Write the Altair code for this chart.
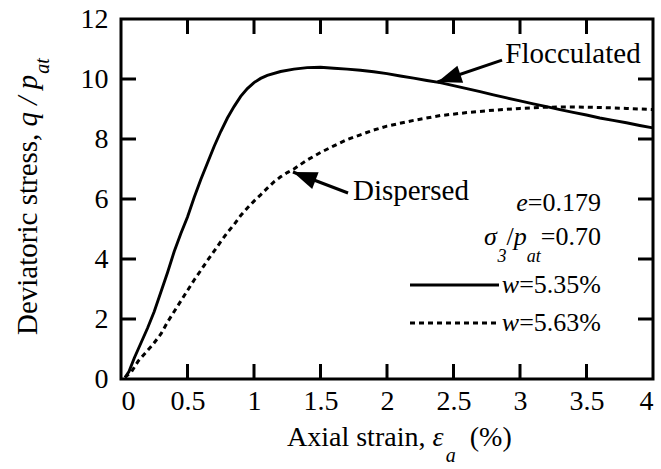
import math
import altair as alt
import pandas as pd

# ---------------- data ----------------
floc_x = [0.03, 0.06, 0.10, 0.15, 0.20, 0.25, 0.30, 0.35, 0.40, 0.45, 0.50, 0.55,
          0.60, 0.65, 0.70, 0.75, 0.80, 0.85, 0.90, 0.95, 1.00, 1.05, 1.10, 1.20,
          1.30, 1.40, 1.50, 1.60, 1.70, 1.80, 1.90, 2.00, 2.10, 2.20, 2.30, 2.40,
          2.50, 2.60, 2.70, 2.80, 2.90, 3.00, 3.10, 3.20, 3.30, 3.40, 3.50, 3.60,
          3.70, 3.80, 3.90, 4.00]
floc_y = [0.05, 0.25, 0.70, 1.20, 1.70, 2.25, 2.90, 3.55, 4.25, 4.85, 5.40, 6.05,
          6.65, 7.20, 7.75, 8.25, 8.70, 9.08, 9.42, 9.68, 9.88, 10.02, 10.12, 10.25,
          10.33, 10.38, 10.39, 10.36, 10.33, 10.29, 10.24, 10.18, 10.10, 10.03, 9.95, 9.88,
          9.78, 9.68, 9.58, 9.47, 9.37, 9.27, 9.17, 9.08, 8.98, 8.89, 8.80, 8.70,
          8.62, 8.54, 8.45, 8.37]

disp_x = [0.03, 0.08, 0.13, 0.18, 0.24, 0.30, 0.35, 0.40, 0.45, 0.50, 0.55, 0.60,
          0.65, 0.70, 0.75, 0.80, 0.85, 0.90, 0.95, 1.00, 1.05, 1.10, 1.15, 1.20,
          1.25, 1.30, 1.40, 1.50, 1.60, 1.70, 1.80, 1.90, 2.00, 2.20, 2.40, 2.60,
          2.80, 3.00, 3.20, 3.40, 3.60, 3.80, 4.00]
disp_y = [0.05, 0.25, 0.60, 0.85, 1.15, 1.50, 1.90, 2.25, 2.60, 2.95, 3.30, 3.62,
          3.95, 4.26, 4.58, 4.88, 5.15, 5.45, 5.70, 5.93, 6.14, 6.36, 6.57, 6.74,
          6.88, 7.00, 7.30, 7.55, 7.77, 7.98, 8.14, 8.30, 8.43, 8.62, 8.78, 8.88,
          8.96, 9.02, 9.06, 9.07, 9.05, 9.02, 8.98]

x_ticks = [0, 0.5, 1, 1.5, 2, 2.5, 3, 3.5, 4]
y_ticks = [0, 2, 4, 6, 8, 10, 12]

# annotation arrows (data coordinates): tail -> tip
arrow_labels = ["Flocculated", "Dispersed"]
arrow_tail_x = [2.865, 1.707]
arrow_tail_y = [10.63, 6.20]
arrow_tip_x = [2.38, 1.293]
arrow_tip_y = [9.90, 6.90]
label_x = [2.89, 1.744]
label_y = [10.82, 6.28]

# ---------------- layout ----------------
W, H = 532, 360
PADL, PADT, PADR, PADB = 121, 19, 8, 90
FONT = "Liberation Serif"
TICK = 15
S_TICK, S_KEY, S_ARR = 28, 26, 29

xs = alt.Scale(domain=[0, 4], nice=False, zero=False)
ys = alt.Scale(domain=[0, 12], nice=False, zero=False)

floc = pd.DataFrame({"x": floc_x, "y": floc_y})
disp = pd.DataFrame({"x": disp_x, "y": disp_y})

solid = alt.Chart(floc).mark_line(color="black", strokeWidth=2.9, clip=True).encode(
    x=alt.X("x:Q", scale=xs,
            axis=alt.Axis(values=x_ticks, format="~g", title=None, ticks=False, tickSize=0,
                          domain=False, grid=False, labelFont=FONT, labelFontSize=S_TICK,
                          labelColor="black", labelPadding=8)),
    y=alt.Y("y:Q", scale=ys,
            axis=alt.Axis(values=y_ticks, format="~g", title=None, ticks=False, tickSize=0,
                          domain=False, grid=False, labelFont=FONT, labelFontSize=S_TICK,
                          labelColor="black", labelPadding=13)),
)
dotted = alt.Chart(disp).mark_line(color="black", strokeWidth=3, strokeDash=[5, 4],
                                   clip=True).encode(x=alt.X("x:Q", scale=xs),
                                                     y=alt.Y("y:Q", scale=ys))

xt = pd.DataFrame({"v": x_ticks[1:-1]})
yt = pd.DataFrame({"v": y_ticks[1:-1]})
tick_b = alt.Chart(xt).mark_rule(color="black", strokeWidth=3).encode(
    x=alt.X("v:Q", scale=xs), y=alt.value(H), y2=alt.value(H - TICK))
tick_t = alt.Chart(xt).mark_rule(color="black", strokeWidth=3).encode(
    x=alt.X("v:Q", scale=xs), y=alt.value(0), y2=alt.value(TICK))
tick_l = alt.Chart(yt).mark_rule(color="black", strokeWidth=3).encode(
    y=alt.Y("v:Q", scale=ys), x=alt.value(0), x2=alt.value(TICK))
tick_r = alt.Chart(yt).mark_rule(color="black", strokeWidth=3).encode(
    y=alt.Y("v:Q", scale=ys), x=alt.value(W), x2=alt.value(W - TICK))

px_x, px_y = W / 4.0, H / 12.0
head_len = 24
heads = []
for i in range(len(arrow_labels)):
    dxp = (arrow_tip_x[i] - arrow_tail_x[i]) * px_x
    dyp = -(arrow_tip_y[i] - arrow_tail_y[i]) * px_y
    n = math.hypot(dxp, dyp)
    ux, uy = dxp / n, dyp / n
    ang = math.degrees(math.atan2(ux, -uy)) % 360
    cx = arrow_tip_x[i] - ux * head_len / 2 / px_x
    cy = arrow_tip_y[i] + uy * head_len / 2 / px_y
    heads.append({"x": cx, "y": cy, "ang": ang})
arrows_df = pd.DataFrame({"x": arrow_tail_x, "y": arrow_tail_y,
                          "x2": arrow_tip_x, "y2": arrow_tip_y})
shafts = alt.Chart(arrows_df).mark_rule(color="black", strokeWidth=3).encode(
    x=alt.X("x:Q", scale=xs), y=alt.Y("y:Q", scale=ys), x2="x2:Q", y2="y2:Q")
head_layers = [
    alt.Chart(pd.DataFrame([h])).mark_point(
        shape="M0,-1L-0.75,1L0.75,1Z", filled=True, color="black", opacity=1,
        size=head_len ** 2, angle=h["ang"], strokeWidth=0).encode(
        x=alt.X("x:Q", scale=xs), y=alt.Y("y:Q", scale=ys))
    for h in heads
]
labels_df = pd.DataFrame({"x": label_x, "y": label_y, "t": arrow_labels})
arrow_text = alt.Chart(labels_df).mark_text(
    font=FONT, fontSize=S_ARR, align="left", baseline="middle", color="black").encode(
    x=alt.X("x:Q", scale=xs), y=alt.Y("y:Q", scale=ys), text="t:N")

# Times (Liberation Serif) advance widths in em, for placing rich-text pieces
REG = {"A": .722, "D": .722, "a": .444, "c": .444, "e": .444, "i": .278, "l": .278,
       "n": .5, "o": .5, "r": .333, "s": .389, "t": .278, "v": .5, "x": .5,
       " ": .25, ",": .25, ".": .25, "=": .564, "%": .833, "/": .278, "(": .333,
       ")": .333}
ITA = {"e": .444, "w": .667, "p": .5, "q": .5, "a": .5, "t": .278, " ": .25,
       "/": .278, "σ": .52, "ε": .44}


def adv(s, size, italic=False):
    tab = ITA if italic else REG
    return sum(tab.get(c, 0.5) for c in s) * size


def txt(s, px, py, size, italic=False, angle=0):
    kw = dict(text=s, font=FONT, fontSize=size, align="left", baseline="alphabetic",
              color="black", angle=angle)
    if italic:
        kw["fontStyle"] = "italic"
    return alt.Chart(pd.DataFrame({"k": [0]})).mark_text(**kw).encode(
        x=alt.value(px - PADL), y=alt.value(py - PADT))


def rich_right(pieces, right, base):
    """pieces: (text, size, italic, drop) laid out left-to-right, ending at `right`."""
    total = sum(adv(p[0], p[1], p[2]) for p in pieces)
    x = right - total
    out = []
    for s, size, it, drop in pieces:
        out.append(txt(s, x, base + drop, size, it))
        x += adv(s, size, it)
    return out


def seg(x1, x2, py, dash=None):
    kw = dict(color="black", strokeWidth=2.9)
    if dash:
        kw["strokeDash"] = dash
    return alt.Chart(pd.DataFrame({"k": [0]})).mark_rule(**kw).encode(
        x=alt.value(x1 - PADL), x2=alt.value(x2 - PADL), y=alt.value(py - PADT))


K, KS = S_KEY, 18
texts = []
texts += rich_right([("e", K, True, 0), ("=0.179", K, False, 0)], 601, 211)
texts += rich_right([("σ", K, True, 0), ("3", KS, True, 17), ("/", K, False, 0),
                     ("p", K, True, 0), ("at", KS, True, 17), ("=0.70", K, False, 0)], 601, 245)
texts += [seg(410, 499, 285)]
texts += rich_right([("w", K, True, 0), ("=5.35%", K, False, 0)], 601, 293)
texts += [seg(410, 499, 323, dash=[5, 4])]
texts += rich_right([("w", K, True, 0), ("=5.63%", K, False, 0)], 601, 331)

# x title: Axial strain, ε_a  (%)
T, TS = 28, 20
x0 = 287
texts.append(txt("Axial strain, ", x0, 446, T))
x0 += adv("Axial strain, ", T)
texts.append(txt("ε", x0, 446, T, True))
x0 += adv("ε", T, True) + 1
texts.append(txt("a", x0, 462, TS, True))
x0 += adv("a", TS, True) + adv("  ", T)
texts.append(txt("(%)", x0, 446, T))

# y title (rotated): Deviatoric stress, q / p_at
TY = 29
y0 = 335
texts.append(txt("Deviatoric stress, ", 37, y0, TY, angle=270))
y0 -= adv("Deviatoric stress, ", TY)
texts.append(txt("q / p", 37, y0, TY, True, angle=270))
y0 -= adv("q / p", TY, True) + 1
texts.append(txt("at", 49, y0, TS, True, angle=270))

chart = alt.layer(
    solid, dotted, tick_b, tick_t, tick_l, tick_r, shafts, *head_layers, arrow_text, *texts
).properties(
    width=W, height=H,
    autosize=alt.AutoSizeParams(type="none"),
    padding={"left": PADL, "top": PADT, "right": PADR, "bottom": PADB},
    background="white",
).configure_view(stroke="black", strokeWidth=3)

chart.save("out.html", embed_options={"renderer": "svg", "actions": False})
